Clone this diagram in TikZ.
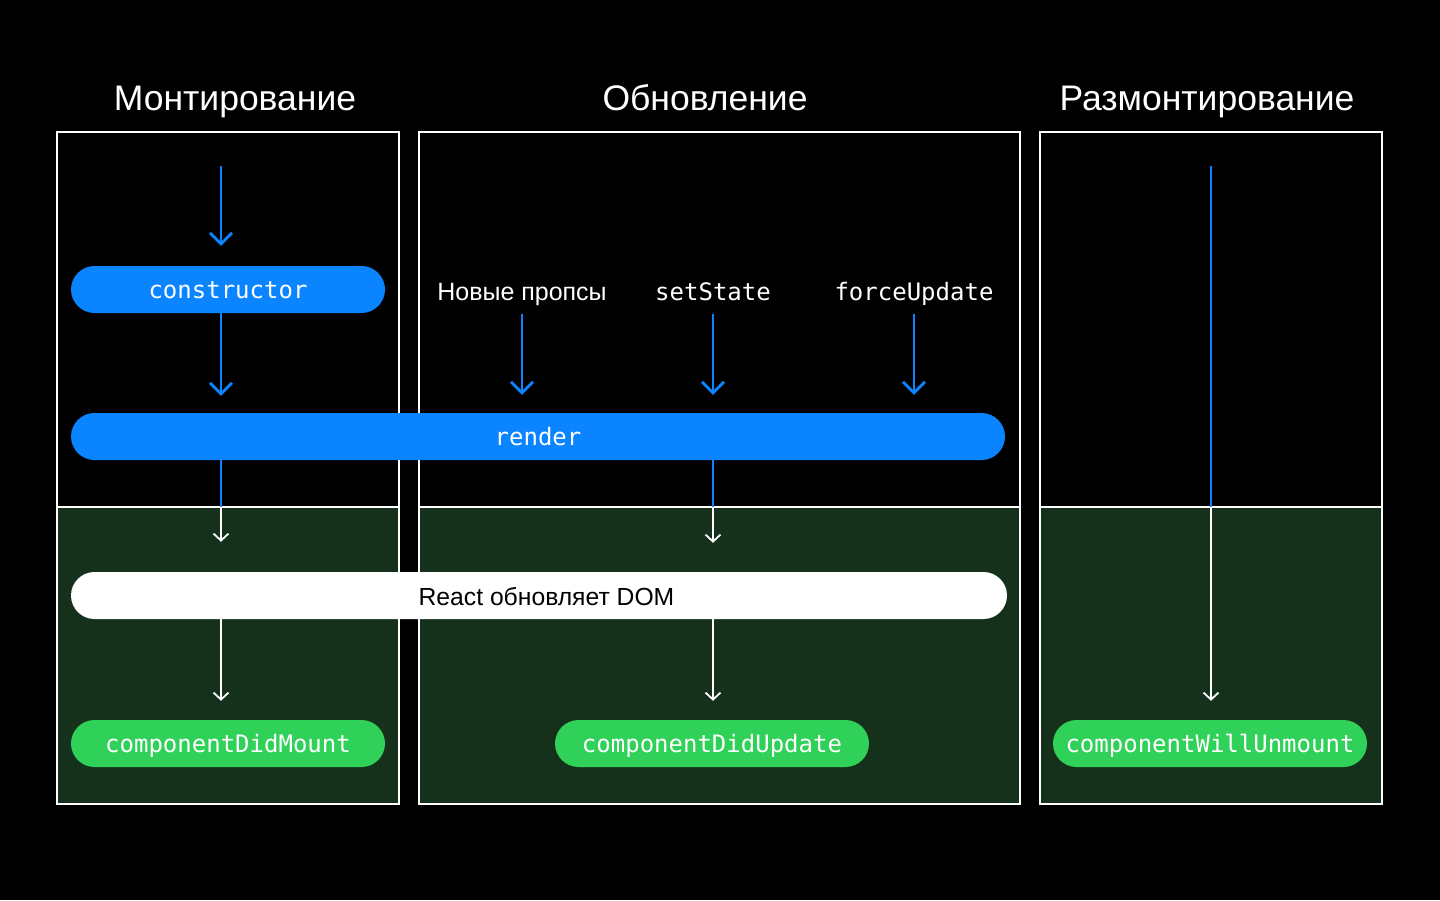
\documentclass[tikz,border=0pt]{standalone}
\usepackage{fontspec}
\setmainfont{Liberation Sans}
\newfontfamily\monof{DejaVu Sans Mono}
\usetikzlibrary{arrows.meta}
\definecolor{rblue}{HTML}{0A84FF}
\definecolor{rgreen}{HTML}{30D158}
\definecolor{dgreen}{HTML}{15311C}
\tikzset{
  pill/.style={rounded corners=23.5pt, minimum height=47pt, inner sep=0pt, text height=17pt, text depth=0pt},
  bluepill/.style={pill, fill=rblue, text=white, font=\monof\fontsize{24}{28}\selectfont},
  greenpill/.style={pill, fill=rgreen, text=white, font=\monof\fontsize{24}{28}\selectfont},
  whitepill/.style={pill, fill=white},
  title/.style={text=white, font=\fontsize{35.5}{40}\selectfont, inner sep=0pt, anchor=base},
  toplabel/.style={text=white, inner sep=0pt, anchor=base},
  bluearrow/.style={draw=rblue, line width=2.8pt, -{Straight Barb[length=11pt,width=22pt,line width=2.8pt]}},
  blueline/.style={draw=rblue, line width=2.8pt},
  whitearrow/.style={draw=white, line width=1.8pt, -{Straight Barb[length=7pt,width=15pt,line width=1.8pt]}},
  frame/.style={draw=white, line width=2pt},
}
\begin{document}
\begin{tikzpicture}[x=1pt, y=-1pt]
\useasboundingbox (0,0) rectangle (1440,900);
\fill[black] (0,0) rectangle (1440,900);

% boxes
\foreach \xa/\xb in {57/399, 419/1020, 1040/1382}{
  \fill[dgreen] (\xa,507) rectangle (\xb,804);
  \draw[frame] (\xa,132) rectangle (\xb,804);
  \draw[frame] (\xa,507) -- (\xb,507);
}

% titles
\node[title] (t1) at (235,110) {Монтирование};
\node[title] (t2) at (705,110) {Обновление};
\node[title] (t3) at (1207,110) {Размонтирование};

% pills
\node[bluepill, minimum width=314pt] (ctor) at (228,289.5) {constructor};
\node[bluepill, minimum width=934pt] (render) at (538,436.5) {render};
\node[whitepill, minimum width=936pt] (dom) at (539,595.5) {};
\node[text=black, font=\fontsize{24.7}{28}\selectfont, inner sep=0pt, anchor=base] (domtext) at (546.5,605) {React обновляет DOM};
\node[greenpill, minimum width=314pt] (didmount) at (228,743.5) {componentDidMount};
\node[greenpill, minimum width=314pt] (didupdate) at (712,743.5) {componentDidUpdate};
\node[greenpill, minimum width=314pt] (willunmount) at (1210,743.5) {componentWillUnmount};

% update labels
\node[toplabel, font=\fontsize{25}{28}\selectfont] (np) at (522,300) {Новые пропсы};
\node[toplabel, font=\monof\fontsize{24}{28}\selectfont] (ss) at (713,300) {setState};
\node[toplabel, font=\monof\fontsize{24}{28}\selectfont] (fu) at (914,300) {forceUpdate};

% coordinates
\coordinate (s1) at (221,166);
\coordinate (m1) at (221,507);
\coordinate (a1) at (522,314);
\coordinate (a2) at (713,314);
\coordinate (a3) at (914,314);
\coordinate (m2) at (713,507);
\coordinate (s3) at (1211,166);
\coordinate (m3) at (1211,507);

% mounting
\draw[bluearrow, shorten >=20pt] (s1) -- (ctor.north -| s1);
\draw[bluearrow, shorten >=17pt] (ctor.south -| s1) -- (render.north -| s1);
\draw[blueline] (render.south -| m1) -- (m1);
\draw[whitearrow, shorten >=30pt] (m1) -- (dom.north -| m1);
\draw[whitearrow, shorten >=19pt] (dom.south -| m1) -- (didmount.north -| m1);

% updating
\draw[bluearrow, shorten >=18pt] (a1) -- (render.north -| a1);
\draw[bluearrow, shorten >=18pt] (a2) -- (render.north -| a2);
\draw[bluearrow, shorten >=18pt] (a3) -- (render.north -| a3);
\draw[blueline] (render.south -| m2) -- (m2);
\draw[whitearrow, shorten >=29pt] (m2) -- (dom.north -| m2);
\draw[whitearrow, shorten >=19pt] (dom.south -| m2) -- (didupdate.north -| m2);

% unmounting
\draw[blueline] (s3) -- (m3);
\draw[whitearrow, shorten >=19pt] (m3) -- (willunmount.north -| m3);
\end{tikzpicture}
\end{document}
